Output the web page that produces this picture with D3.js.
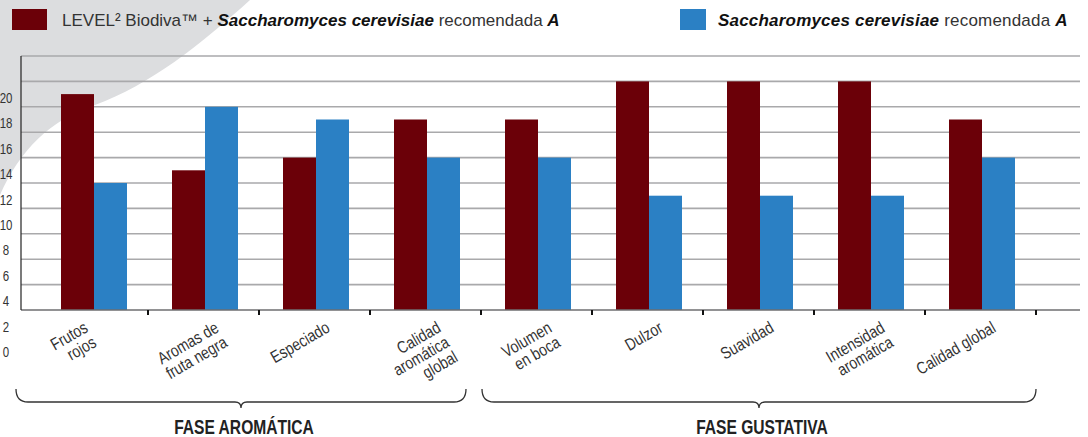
<!DOCTYPE html>
<html>
<head>
<meta charset="utf-8">
<script src="https://cdn.jsdelivr.net/npm/d3@7"></script>
<style>
  html, body { margin: 0; padding: 0; background: #fff; }
  svg { display: block; font-family: "Liberation Sans", Arial, sans-serif; }
</style>
</head>
<body>
<svg id="chart" width="1088" height="437"></svg>
<script>
// Categories (line breaks as in the original labels)
const categories = [
  "Frutos\nrojos", "Aromas de\nfruta negra", "Especiado", "Calidad\naromática\nglobal",
  "Volumen\nen boca", "Dulzor", "Suavidad", "Intensidad\naromática", "Calidad global"
];
// Number of tasters preferring each wine
const levelValues = [17, 11, 12, 15, 15, 18, 18, 18, 15];
const referenceValues = [10, 16, 15, 12, 12, 9, 9, 9, 12];
const yTicks = [0, 2, 4, 6, 8, 10, 12, 14, 16, 18, 20];
const seriesKeys = ["level", "reference"];
const seriesColours = ["#6b0008", "#2b80c4"];
// Phase groups: first and last category index
const phaseNames = ["FASE AROMÁTICA", "FASE GUSTATIVA"];
const phaseFrom = [0, 4];
const phaseTo = [3, 8];

// Some set up.
const plotLeft = 21, plotRight = 1080;
const narrow = 0.82; // horizontal squeeze to mimic the condensed face
const svg = d3.select('#chart');

// Background swoosh
svg.append('path')
  .attr('d', 'M0,0 H250 C200,45 150,85 95,105 C50,120 20,150 0,195 Z')
  .attr('fill', '#dcdddf');

// Scales
const x = d3.scaleBand().domain(categories).range([34, 1033]).padding(0);
const x1 = d3.scaleBand().domain(seriesKeys).range([27, 93]).padding(0);
const y = d3.scaleLinear().domain([0, 20]).range([310, 56]);
const colour = d3.scaleOrdinal().domain(seriesKeys).range(seriesColours);

const rows = categories.map((c, i) => ({ cat: c, level: levelValues[i], reference: referenceValues[i] }));

// Gridlines
svg.append('g')
  .selectAll('line')
  .data(yTicks.filter(d => d > 0))
  .join('line')
  .attr('x1', plotLeft).attr('x2', plotRight)
  .attr('y1', d => y(d)).attr('y2', d => y(d))
  .attr('stroke', '#a9a9ab').attr('stroke-width', 1.6);

// Bars
svg.append('g')
  .selectAll('g')
  .data(rows)
  .join('g')
  .attr('transform', d => `translate(${x(d.cat)},0)`)
  .selectAll('rect')
  .data(d => seriesKeys.map(k => ({ key: k, value: d[k] })))
  .join('rect')
  .attr('x', d => x1(d.key))
  .attr('width', x1.bandwidth())
  .attr('y', d => y(d.value))
  .attr('height', d => y(0) - y(d.value))
  .attr('fill', d => colour(d.key));

// Baseline and vertical axis
svg.append('line')
  .attr('x1', plotLeft).attr('x2', plotRight)
  .attr('y1', y(0)).attr('y2', y(0))
  .attr('stroke', '#6e6e70').attr('stroke-width', 1.6);
svg.append('line')
  .attr('x1', plotLeft).attr('x2', plotLeft)
  .attr('y1', y(20)).attr('y2', y(0))
  .attr('stroke', '#222').attr('stroke-width', 1.2);

// Category ticks
svg.append('g')
  .selectAll('line')
  .data(categories)
  .join('line')
  .attr('x1', d => x(d) + x.step() + 3).attr('x2', d => x(d) + x.step() + 3)
  .attr('y1', y(0)).attr('y2', y(0) + 5)
  .attr('stroke', '#111').attr('stroke-width', 2);

// Y labels (sit below their gridlines, as in the original)
const yAxis = svg.append('g')
  .attr('transform', `translate(12,42)`)
  .call(d3.axisLeft(y).tickValues(yTicks).tickSize(0).tickPadding(0));
yAxis.select('.domain').remove();
yAxis.selectAll('text')
  .attr('text-anchor', 'middle')
  .attr('x', -6 / narrow)
  .attr('transform', `scale(${narrow},1)`)
  .style('font-family', '"Liberation Sans", Arial, sans-serif')
  .style('font-size', '14px')
  .attr('fill', '#333');

// Category labels
const labels = svg.append('g')
  .selectAll('text')
  .data(categories)
  .join('text')
  .attr('transform', (d, i) => `translate(${x(d) + 75 - (i === 0 ? 20 : 0)},331) rotate(-30) scale(${narrow},1)`)
  .attr('text-anchor', 'end')
  .style('font-size', '17px')
  .attr('fill', '#333');
labels.selectAll('tspan')
  .data(d => d.split('\n'))
  .join('tspan')
  .attr('x', 0)
  .attr('dy', (d, i) => i === 0 ? 0 : '1.0em')
  .text(d => d);

// Phase braces
function brace(x0, x2, yTop, yLine, tip) {
  const xm = (x0 + x2) / 2;
  const r = 12;
  return `M${x0},${yTop} Q${x0},${yLine} ${x0 + r},${yLine} L${xm - 6},${yLine}` +
    ` Q${xm},${yLine} ${xm},${yLine + tip} Q${xm},${yLine} ${xm + 6},${yLine}` +
    ` L${x2 - r},${yLine} Q${x2},${yLine} ${x2},${yTop}`;
}
const phases = phaseNames.map((n, i) => ({
  name: n,
  x0: x(categories[phaseFrom[i]]) + (i === 0 ? -18 : 4),
  x2: x(categories[phaseTo[i]]) + x.step() + (i === 0 ? -12 : 3)
}));
svg.append('g')
  .selectAll('path')
  .data(phases)
  .join('path')
  .attr('d', d => brace(d.x0, d.x2, 389, 402, 6))
  .attr('fill', 'none')
  .attr('stroke', '#333')
  .attr('stroke-width', 1.3);
svg.append('g')
  .selectAll('text')
  .data(phases)
  .join('text')
  .attr('transform', d => `translate(${(d.x0 + d.x2) / 2 + 3},434) scale(0.78,1)`)
  .attr('text-anchor', 'middle')
  .style('font-size', '20px')
  .style('font-weight', 'bold')
  .attr('fill', '#222')
  .text(d => d.name);

// Legend
const legend = svg.append('g').style('font-size', '17px');
legend.append('rect').attr('x', 12).attr('y', 9).attr('width', 35).attr('height', 21).attr('fill', colour('level'));
legend.append('rect').attr('x', 680).attr('y', 9).attr('width', 26).attr('height', 21).attr('fill', colour('reference'));

function legendText(parts, x0, spacing) {
  const t = legend.append('text').attr('x', x0).attr('y', 26).attr('fill', '#333').style('letter-spacing', spacing);
  parts.forEach(p => {
    const s = t.append('tspan').text(p[0]);
    if (p[1]) s.style('font-weight', 'bold').style('font-style', 'italic').attr('fill', '#111');
  });
}
legendText([['LEVEL² Biodiva™ + '], ['Saccharomyces cerevisiae', true], [' recomendada '], ['A', true]], 62, '0px');
legendText([['Saccharomyces cerevisiae', true], [' recomendada '], ['A', true]], 718, '0.2px');
</script>
</body>
</html>
